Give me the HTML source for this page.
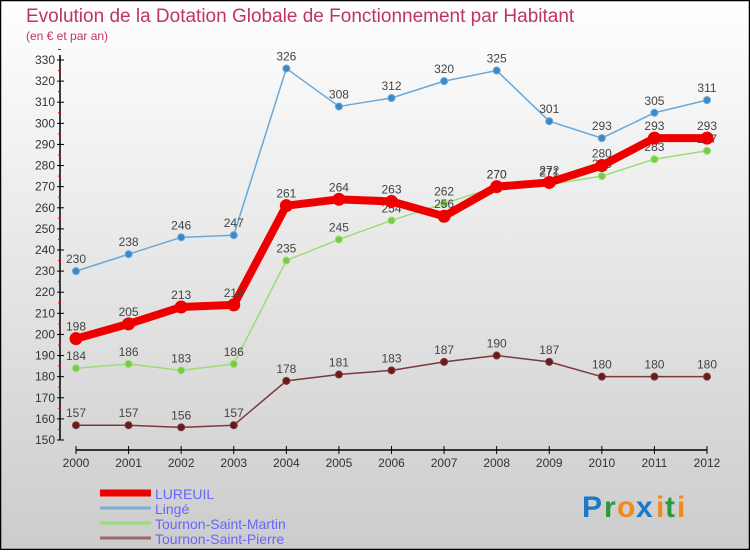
<!DOCTYPE html>
<html><head><meta charset="utf-8"><style>
html,body{margin:0;padding:0}
body{width:750px;height:550px;overflow:hidden;font-family:"Liberation Sans",sans-serif}
</style></head><body>
<svg width="750" height="550" xmlns="http://www.w3.org/2000/svg" id="svg" font-family="Liberation Sans, sans-serif">
<defs><linearGradient id="bg" x1="0" y1="0" x2="0" y2="1"><stop offset="0" stop-color="#ffffff"/><stop offset="1" stop-color="#cccccc"/></linearGradient></defs>
<rect x="0.5" y="0.5" width="749" height="549" fill="url(#bg)" stroke="#000" stroke-width="1.5"/>
<text x="26" y="22" font-size="19" fill="#c0345e">Evolution de la Dotation Globale de Fonctionnement par Habitant</text>
<text x="26" y="40" font-size="12" fill="#c0345e">(en € et par an)</text>
<g id="axes"></g><g id="series"></g><g id="legend"></g>
<g font-size="30" font-weight="bold">
<text x="582" y="517" fill="#1a7ac8">P</text><text x="604" y="517" fill="#2a9a3a">r</text><text x="617" y="517" fill="#f08a1a">o</text><text x="636" y="517" fill="#1a7ac8">x</text><text x="656" y="517" fill="#f08a1a">i</text><text x="665" y="517" fill="#2a9a3a">t</text><text x="677" y="517" fill="#f08a1a">i</text>
</g>
</svg>
<script>
const years=[2000,2001,2002,2003,2004,2005,2006,2007,2008,2009,2010,2011,2012];
const lureuil=[198,205,213,214,261,264,263,256,270,272,280,293,293];
const linge=[230,238,246,247,326,308,312,320,325,301,293,305,311];
const tsMartin=[184,186,183,186,235,245,254,262,270,271,275,283,287];
const tsPierre=[157,157,156,157,178,181,183,187,190,187,180,180,180];
const yTicks=[150,160,170,180,190,200,210,220,230,240,250,260,270,280,290,300,310,320,330];
const NS='http://www.w3.org/2000/svg';
const X=i=>76+i*(707-76)/12;
const Y=v=>440-(v-150)*380/180;
function mk(t,a,p){const e=document.createElementNS(NS,t);for(const k in a)e.setAttribute(k,a[k]);p.appendChild(e);return e;}
const ax=document.getElementById('axes');
let e=mk('line',{x1:60,y1:55,x2:60,y2:440,stroke:'#000','stroke-width':1.5},ax);


e=mk('line',{x1:76,y1:450,x2:707,y2:450,stroke:'#000','stroke-width':1.5},ax);


yTicks.forEach(v=>{mk('line',{x1:57,x2:64,y1:Y(v),y2:Y(v),stroke:'#000'},ax);
mk('line',{x1:58,x2:61,y1:Y(v+5),y2:Y(v+5),stroke:'#e00'},ax);
const t=mk('text',{x:55,y:Y(v)+4,'text-anchor':'end','font-size':12,fill:'#333'},ax);t.textContent=v;

});
years.forEach((y,i)=>{mk('line',{x1:X(i),x2:X(i),y1:446,y2:454,stroke:'#000'},ax);
const t=mk('text',{x:X(i),y:467,'text-anchor':'middle','font-size':12,fill:'#333'},ax);t.textContent=y;

});
const sg=document.getElementById('series');
function draw(d,name,lc,pc,w,r){const g=mk('g',{},sg);


mk('polyline',{points:d.map((v,i)=>X(i)+','+Y(v)).join(' '),fill:'none',stroke:lc,'stroke-width':w,'stroke-linejoin':'round'},g);
d.forEach((v,i)=>{const c=mk('circle',{cx:X(i),cy:Y(v),r:r,fill:pc,stroke:lc,'stroke-width':1},g);


const t=mk('text',{x:X(i),y:Y(v)-8,'text-anchor':'middle','font-size':12,fill:'#444'},g);t.textContent=v;

});}
draw(tsPierre,'tournon-saint-pierre','#7a3a3a','#6a1a1a',1.5,3.5);
draw(tsMartin,'tournon-saint-martin','#99dd77','#77cc44',1.5,3.5);
draw(linge,'linge','#6aa8d8','#3a88c8',1.5,3.5);
draw(lureuil,'lureuil','#ee0000','#ee0000',8,6);
const lg=document.getElementById('legend');
[['LUREUIL','#ee0000',7],['Lingé','#7aaed4',3],['Tournon-Saint-Martin','#99dd77',3],['Tournon-Saint-Pierre','#9a6a6a',3]].forEach((s,i)=>{
const y=493+i*15;const g=mk('g',{},lg);


mk('line',{x1:100,x2:151,y1:y,y2:y,stroke:s[1],'stroke-width':s[2]},g);
const t=mk('text',{x:155,y:y+6,'font-size':14,fill:'#6666ff'},g);t.textContent=s[0];});
</script>
</body></html>
